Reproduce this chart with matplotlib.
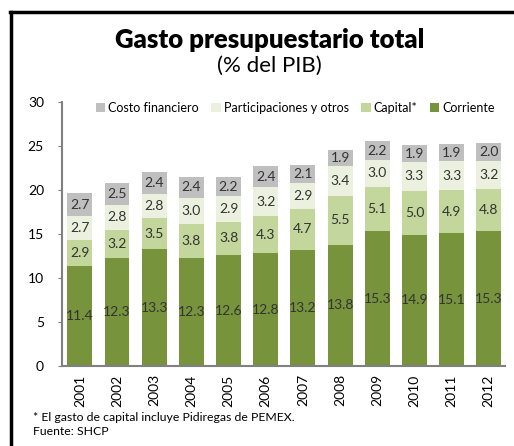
import matplotlib
matplotlib.use("Agg")
import matplotlib.pyplot as plt
from matplotlib.lines import Line2D
import numpy as np

years = ["2001", "2002", "2003", "2004", "2005", "2006", "2007", "2008", "2009", "2010", "2011", "2012"]
corriente = [11.4, 12.3, 13.3, 12.3, 12.6, 12.8, 13.2, 13.8, 15.3, 14.9, 15.1, 15.3]
capital = [2.9, 3.2, 3.5, 3.8, 3.8, 4.3, 4.7, 5.5, 5.1, 5.0, 4.9, 4.8]
participaciones = [2.7, 2.8, 2.8, 3.0, 2.9, 3.2, 2.9, 3.4, 3.0, 3.3, 3.3, 3.2]
costo = [2.7, 2.5, 2.4, 2.4, 2.2, 2.4, 2.1, 1.9, 2.2, 1.9, 1.9, 2.0]

series = [
    ("Corriente", corriente, "#77933C"),
    ("Capital*", capital, "#C3D69B"),
    ("Participaciones y otros", participaciones, "#EBF1DE"),
    ("Costo financiero", costo, "#BFBFBF"),
]

plt.rcParams['font.family'] = ['Lato', 'DejaVu Sans']

fig = plt.figure(figsize=(5.14, 4.46), dpi=100)
ax = fig.add_axes([0.1206, 0.1794, 0.8614, 0.5916])

x = np.arange(len(years))
bottom = np.zeros(len(years))
handles = {}
for name, vals, color in series:
    vals = np.array(vals)
    bars = ax.bar(x, vals, 0.67, bottom=bottom, color=color, label=name, linewidth=0)
    handles[name] = bars
    for xi, b, v in zip(x, bottom, vals):
        ax.text(xi, b + v / 2, f"{v:.1f}", ha="center", va="center", fontsize=10, color="#333333")
    bottom += vals

ax.set_ylim(0, 30)
ax.set_xlim(-0.48, 11.43)
ax.set_yticks([0, 5, 10, 15, 20, 25, 30])
ax.set_xticks(x)
ax.set_xticklabels(years, rotation=90, fontsize=10)
ax.tick_params(axis="y", labelsize=10, length=3, color="#808080", pad=10)
ax.tick_params(axis="x", length=0, pad=6)
for s in ["top", "right"]:
    ax.spines[s].set_visible(False)
ax.spines["left"].set_color("#808080")
ax.spines["bottom"].set_color("#808080")
ax.spines["left"].set_linewidth(1.5)
ax.spines["bottom"].set_linewidth(1.5)

order = ["Costo financiero", "Participaciones y otros", "Capital*", "Corriente"]
leg = ax.legend([handles[n] for n in order], order, ncol=4, loc="upper center",
                bbox_to_anchor=(0.527, 1.045), frameon=False, fontsize=9,
                handlelength=0.75, handleheight=0.75, handletextpad=0.25, columnspacing=1.0)

fig.text(0.525, 0.91, "Gasto presupuestario total", ha="center", va="center",
         fontsize=18.5, fontweight="heavy")
fig.text(0.525, 0.853, "(% del PIB)", ha="center", va="center", fontsize=16)

fig.text(0.064, 0.065, "* El gasto de capital incluye Pidiregas de PEMEX.", ha="left", va="center", fontsize=8.8)
fig.text(0.064, 0.033, "Fuente: SHCP", ha="left", va="center", fontsize=8.8)

fig.add_artist(Line2D([0.021, 0.021], [0.0, 0.972], color="black", linewidth=2.5, transform=fig.transFigure))
fig.add_artist(Line2D([0.019, 1.0], [0.972, 0.972], color="black", linewidth=2.5, transform=fig.transFigure))

fig.savefig("out.png", dpi=100)
